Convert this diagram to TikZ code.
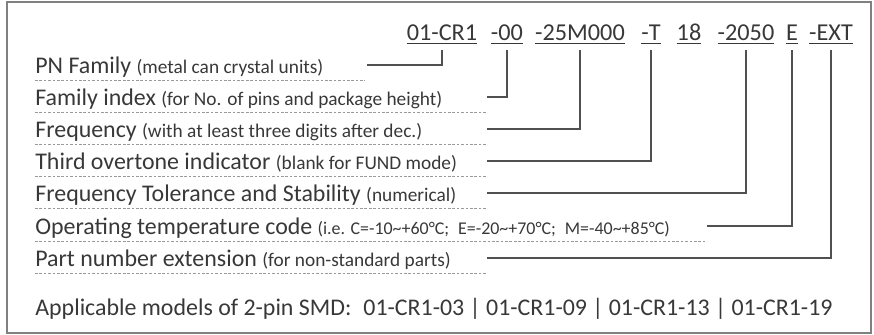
\documentclass[tikz,border=0pt]{standalone}
\usepackage{fontspec}
\setmainfont{Carlito}
\usetikzlibrary{calc}
\definecolor{txtcolor}{HTML}{383838}
\definecolor{leadcolor}{HTML}{505050}
\definecolor{framecolor}{HTML}{808080}
\definecolor{dashcolor}{HTML}{9A9A9A}
\newcommand{\pnote}[1]{{\fontsize{11}{13}\selectfont #1}}
\newcommand{\tnote}[1]{{\fontsize{10.2}{12}\selectfont #1}}
\tikzset{
  seg/.style={font=\fontsize{13.8}{16}\selectfont, text=txtcolor, anchor=base, inner sep=3pt},
  lbl/.style={font=\fontsize{13.6}{16}\selectfont, text=txtcolor, anchor=base west, inner sep=0pt},
  leader/.style={draw=leadcolor, line width=1.1pt},
  dashline/.style={draw=dashcolor, line width=0.5pt, dash pattern=on 1.5pt off 1pt}
}

\begin{document}
\begin{tikzpicture}
\useasboundingbox (0,0) rectangle (17.48,6.70);
\draw[framecolor, line width=0.9pt] (0.14,0.04) rectangle (17.42,6.66);

\node[seg] (cr)  at (8.84,5.88)  {\underline{01-CR1}};
\node[seg] (idx) at (10.14,5.88) {\underline{-00}};
\node[seg] (frq) at (11.60,5.88) {\underline{-25M000}};
\node[seg] (ovt) at (13.02,5.88) {\underline{-T}};
\node[seg] (pkg) at (13.78,5.88) {\underline{18}};
\node[seg] (tol) at (14.92,5.88) {\underline{-2050}};
\node[seg] (tmp) at (15.84,5.88) {\underline{E}};
\node[seg] (ext) at (16.62,5.88) {\underline{-EXT}};

\node[lbl] (l1) at (0.70,5.22) {PN Family \pnote{(metal can crystal units)}};
\node[lbl] (l2) at (0.70,4.58) {Family index \pnote{(for No. of pins and package height)}};
\node[lbl] (l3) at (0.70,3.94) {Frequency \pnote{(with at least three digits after dec.)}};
\node[lbl] (l4) at (0.70,3.30) {Third overtone indicator \pnote{(blank for FUND mode)}};
\node[lbl] (l5) at (0.70,2.66) {Frequency Tolerance and Stability \pnote{(numerical)}};
\node[lbl] (l6) at (0.70,2.00) {Operating temperature code \tnote{(i.e. C=-10\textasciitilde+60°C;\enspace E=-20\textasciitilde+70°C;\enspace M=-40\textasciitilde+85°C)}};
\node[lbl] (l7) at (0.70,1.36) {Part number extension \pnote{(for non-standard parts)}};
\node[lbl] (apl) at (0.70,0.38) {Applicable models of 2-pin SMD:\enspace 01-CR1-03 | 01-CR1-09 | 01-CR1-13 | 01-CR1-19};

\draw[dashline] (0.70,5.10) -- (7.30,5.10);
\draw[dashline] (0.70,4.46) -- (9.74,4.46);
\draw[dashline] (0.70,3.82) -- (9.74,3.82);
\draw[dashline] (0.70,3.18) -- (9.74,3.18);
\draw[dashline] (0.70,2.54) -- (9.74,2.54);
\draw[dashline] (0.70,1.88) -- (14.14,1.88);
\draw[dashline] (0.70,1.24) -- (9.74,1.24);

\coordinate (e1) at (7.34,5.40);
\coordinate (e2) at (9.74,4.76);
\coordinate (e3) at (9.74,4.12);
\coordinate (e4) at (9.74,3.48);
\coordinate (e5) at (9.74,2.84);
\coordinate (e6) at (14.14,2.18);
\coordinate (e7) at (9.74,1.54);

\draw[leader] (cr.south) |- (e1);
\draw[leader] (idx.south) |- (e2);
\draw[leader] (frq.south) |- (e3);
\draw[leader] (ovt.south) |- (e4);
\draw[leader] (tol.south) |- (e5);
\draw[leader] (tmp.south) |- (e6);
\draw[leader] (ext.south) |- (e7);
\end{tikzpicture}
\end{document}
